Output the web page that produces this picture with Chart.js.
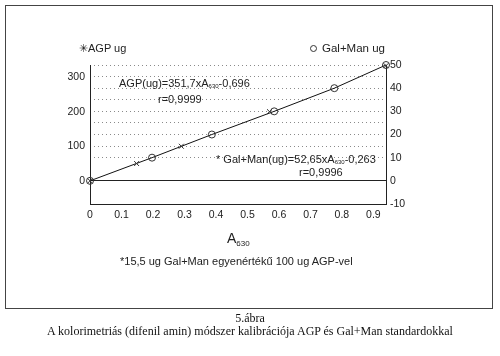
<!DOCTYPE html>
<html>
<head>
<meta charset="utf-8">
<script src="https://cdn.jsdelivr.net/npm/chart.js@4.4.1/dist/chart.umd.min.js"></script>
<style>
  html, body { margin: 0; padding: 0; background: #fff; }
  #wrap { position: relative; width: 500px; height: 356px; overflow: hidden; background: #fff; }
  #frame { position: absolute; left: 5px; top: 5px; width: 488px; height: 304px; box-sizing: border-box; border: 1px solid #444; }
  #c { position: absolute; left: 0; top: 0; }
  .t { position: absolute; font-family: "Liberation Sans", Arial, sans-serif; font-size: 11px; color: #222; white-space: nowrap; line-height: 12px; }
  .t sub { font-size: 6px; vertical-align: -1px; line-height: 0; }
  .cap { position: absolute; left: 0; width: 500px; text-align: center; font-family: "Liberation Serif", "Times New Roman", serif; font-size: 12px; color: #111; line-height: 13px; white-space: nowrap; }
  .circ { position: absolute; width: 7px; height: 7px; border: 1px solid #333; border-radius: 50%; box-sizing: border-box; }
</style>
</head>
<body>
<div id="wrap">
  <div id="frame"></div>
  <canvas id="c" width="500" height="356"></canvas>

  <div class="t" style="left:79px; top:42px; font-size:11px;">✳AGP ug</div>
  <div class="circ" style="left:310px; top:45px;"></div>
  <div class="t" style="left:322px; top:42px; font-size:11.5px;">Gal+Man ug</div>

  <div class="t" style="left:119px; top:77px;">AGP(ug)=351,7xA<sub>630</sub>-0,696</div>
  <div class="t" style="left:158px; top:93px;">r=0,9999</div>
  <div class="t" style="left:216px; top:153px;">* Gal+Man(ug)=52,65xA<sub>630</sub>-0,263</div>
  <div class="t" style="left:299px; top:166px;">r=0,9996</div>

  <div class="t" style="left:227px; top:231px; font-size:14px; line-height:15px;">A<sub style="font-size:8px; vertical-align:-3px;">630</sub></div>
  <div class="t" style="left:120px; top:255px;">*15,5 ug Gal+Man egyenértékű 100 ug AGP-vel</div>

  <div class="cap" style="top:312px;">5.ábra</div>
  <div class="cap" style="top:325px;">A kolorimetriás (difenil amin) módszer kalibrációja AGP és Gal+Man standardokkal</div>
</div>
<script>
// ---- data ----
const xTicks = [0, 0.1, 0.2, 0.3, 0.4, 0.5, 0.6, 0.7, 0.8, 0.9];
const agpTicks = [0, 100, 200, 300];
const galManTicks = [-10, -5, 0, 5, 10, 15, 20, 25, 30, 35, 40, 45, 50];

const agpA630 = [0, 0.148, 0.29, 0.57, 0.94];
const agpUg = [0, 50, 100, 200, 333];

const galManA630 = [0, 0.197, 0.387, 0.585, 0.776, 0.94];
const galManUg = [0, 10, 20, 30, 40, 50];

const X_MIN = 0, X_MAX = 0.94;
const AGP_MIN = -67, AGP_MAX = 335;
const GM_MIN = -10, GM_MAX = 50;

const agpPoints = agpA630.map((x, i) => ({ x, y: agpUg[i] }));
const galManPoints = galManA630.map((x, i) => ({ x, y: galManUg[i] }));

const tickFont = { family: '"Liberation Sans", Arial, sans-serif', size: 10.5 };

new Chart(document.getElementById('c'), {
  type: 'scatter',
  data: {
    datasets: [
      {
        label: 'Gal+Man ug',
        data: galManPoints,
        yAxisID: 'yR',
        showLine: true,
        borderColor: '#111',
        borderWidth: 1,
        pointStyle: 'circle',
        pointRadius: 3.5,
        pointBorderWidth: 1,
        pointBorderColor: '#333',
        pointBackgroundColor: 'rgba(255,255,255,0)',
        clip: false,
        order: 2
      },
      {
        label: 'AGP ug',
        data: agpPoints,
        yAxisID: 'yL',
        showLine: false,
        pointStyle: 'crossRot',
        pointRadius: 3.5,
        pointBorderWidth: 1,
        pointBorderColor: '#333',
        clip: false,
        order: 1
      }
    ]
  },
  options: {
    responsive: false,
    animation: false,
    events: [],
    layout: { padding: { left: 0, right: 74, top: 65, bottom: 132 } },
    plugins: { legend: { display: false }, tooltip: { enabled: false } },
    scales: {
      x: {
        type: 'linear',
        min: X_MIN, max: X_MAX,
        afterBuildTicks: s => { s.ticks = xTicks.map(v => ({ value: v })); },
        afterFit: s => { s.height = 20; },
        grid: { display: false, drawTicks: false },
        border: { display: true, color: '#222', width: 1 },
        ticks: {
          color: '#222', font: tickFont, padding: 5, maxRotation: 0, autoSkip: false,
          callback: v => v === 0 ? '0' : v.toFixed(1)
        }
      },
      yL: {
        type: 'linear',
        position: 'left',
        min: AGP_MIN, max: AGP_MAX,
        afterBuildTicks: s => { s.ticks = agpTicks.map(v => ({ value: v })); },
        afterFit: s => { s.width = 90; },
        grid: { display: false, drawTicks: false },
        border: { display: true, color: '#222', width: 1 },
        ticks: { color: '#222', font: tickFont, padding: 5, callback: v => String(v) }
      },
      yR: {
        type: 'linear',
        position: 'right',
        min: GM_MIN, max: GM_MAX,
        afterBuildTicks: s => { s.ticks = galManTicks.map(v => ({ value: v })); },
        afterFit: s => { s.width = 40; },
        ticks: {
          color: '#222', font: tickFont, padding: 4, autoSkip: false,
          callback: v => (v % 10 === 0 ? String(v) : '')
        },
        grid: {
          drawTicks: false,
          lineWidth: 1,
          color: ctx => {
            const v = ctx.tick ? ctx.tick.value : null;
            if (v === 0) return '#222';
            if (v !== null && v >= 10) return '#8a8a8a';
            return 'rgba(0,0,0,0)';
          }
        },
        border: {
          display: true, color: '#222', width: 1,
          dash: ctx => (ctx.tick && ctx.tick.value === 0) ? [] : [1, 3]
        }
      }
    }
  }
});
</script>
</body>
</html>
